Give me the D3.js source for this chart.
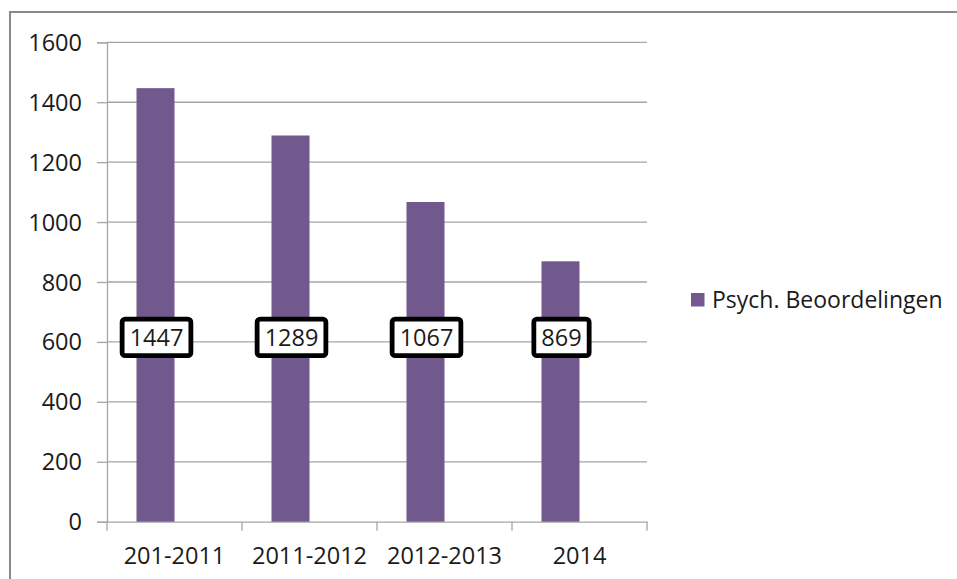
<!DOCTYPE html>
<html><head><meta charset="utf-8">
<script src="https://cdn.jsdelivr.net/npm/d3@7"></script>
<style>body{margin:0;background:#fff}svg{display:block}text{font-family:"Open Sans",sans-serif;fill:#1a1a1a}</style>
</head><body><svg id="c" width="957" height="579"></svg>
<script>
const categories = ["201-2011", "2011-2012", "2012-2013", "2014"];
const values = [1447, 1289, 1067, 869];
const seriesName = "Psych. Beoordelingen";
const yTicks = [0, 200, 400, 600, 800, 1000, 1200, 1400, 1600];

(function () {
const svg = d3.select("#c");
const fs = 23.5;
// outer frame
svg.append("rect").attr("x", 10).attr("y", 12).attr("width", 960).attr("height", 600)
  .attr("fill", "none").attr("stroke", "#8a8a8a").attr("stroke-width", 2);

const pL = 107, pR = 647, pT = 42.3, pB = 521.7;
const x = d3.scaleBand().domain(categories).range([pL, pR]).paddingInner(0).paddingOuter(0);
const y = d3.scaleLinear().domain([0, 1600]).range([pB, pT]);

// gridlines
svg.append("g").selectAll("line").data(yTicks.filter(d => d > 0)).join("line")
  .attr("x1", pL).attr("x2", pR).attr("y1", d => y(d)).attr("y2", d => y(d))
  .attr("stroke", "#a6a6a6").attr("stroke-width", 1.3);

// y axis
const ya = svg.append("g").attr("transform", `translate(${pL},0)`)
  .call(d3.axisLeft(y).tickValues(yTicks).tickSize(10).tickPadding(15).tickFormat(d3.format("d")));
ya.select(".domain").attr("stroke", "#a6a6a6").attr("stroke-width", 1.3);
ya.selectAll(".tick line").attr("stroke", "#a6a6a6").attr("stroke-width", 1.3);
ya.selectAll("text").attr("font-size", fs).attr("font-family", "Open Sans").attr("fill", "#1a1a1a").attr("dy", "0.34em");

// x axis
const xa = svg.append("g").attr("transform", `translate(0,${pB})`)
  .call(d3.axisBottom(x).tickSize(0).tickPadding(26));
xa.select(".domain").attr("stroke", "#a6a6a6").attr("stroke-width", 1.3);
xa.selectAll("text").attr("font-size", fs).attr("font-family", "Open Sans").attr("fill", "#1a1a1a");
// category boundary ticks
svg.append("g").selectAll("line").data(categories.concat(["end"])).join("line")
  .attr("x1", (d, i) => pL + i * x.bandwidth()).attr("x2", (d, i) => pL + i * x.bandwidth())
  .attr("y1", pB).attr("y2", pB + 9).attr("stroke", "#a6a6a6").attr("stroke-width", 1.3);

// bars (first of two series slots, Excel-style)
const barW = 38;
const barX = d => x(d) + x.bandwidth() / 2 - barW;
svg.append("g").selectAll("rect").data(values).join("rect")
  .attr("x", (d, i) => barX(categories[i])).attr("width", barW)
  .attr("y", d => y(d)).attr("height", d => y(0) - y(d))
  .attr("fill", "#71598e");

// data labels
const labelVal = 615;
const lg = svg.append("g").selectAll("g").data(values).join("g")
  .attr("transform", (d, i) => `translate(${barX(categories[i]) + barW / 2 + 1},${y(labelVal)})`);
lg.each(function (d) {
  const g = d3.select(this);
  const t = g.append("text").text(d).attr("text-anchor", "middle").attr("dy", "0.36em")
    .attr("font-size", fs);
  const w = t.node().getComputedTextLength() + 15;
  g.insert("rect", "text").attr("x", -w / 2).attr("y", -18.25).attr("width", w).attr("height", 36.5)
    .attr("rx", 3).attr("fill", "#fff").attr("stroke", "#000").attr("stroke-width", 4.8);
});

// legend
svg.append("rect").attr("x", 691).attr("y", 293).attr("width", 13.5).attr("height", 13.5).attr("fill", "#71598e");
svg.append("text").attr("x", 712).attr("y", 308).attr("font-size", 23).text(seriesName);
})();
</script></body></html>
